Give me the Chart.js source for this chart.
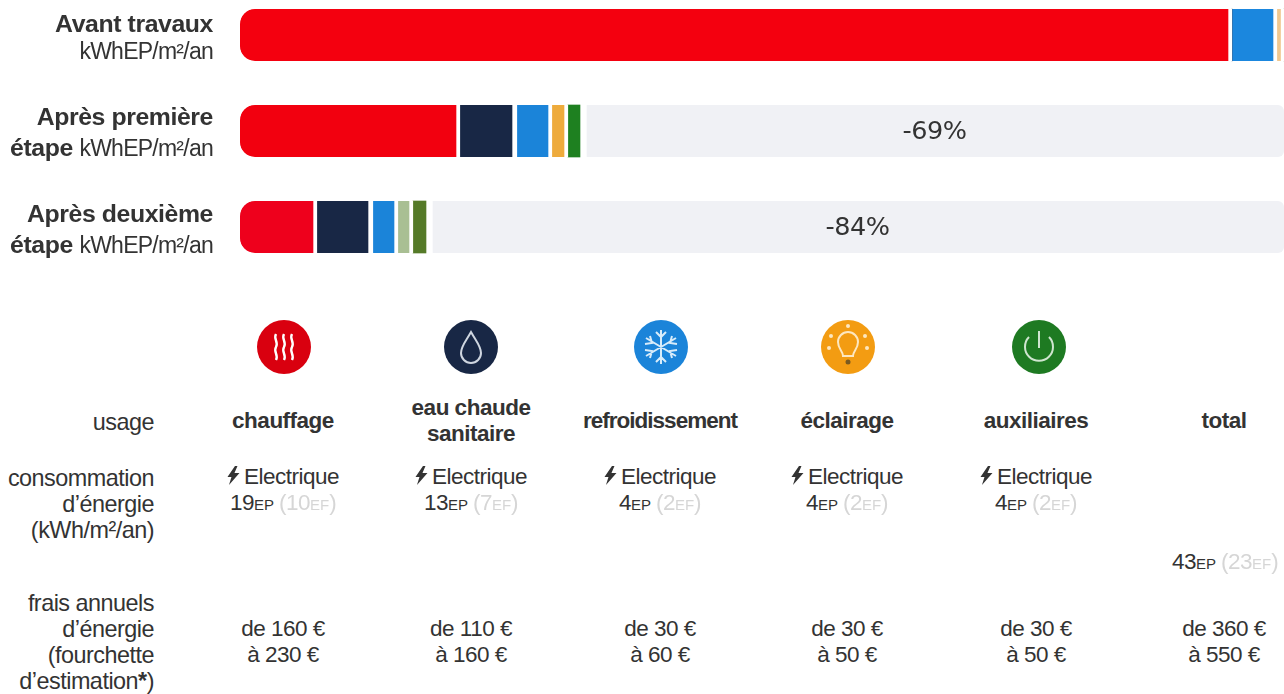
<!DOCTYPE html>
<html lang="fr">
<head>
<meta charset="utf-8">
<title>Consommation d'énergie par étape</title>
<script src="https://cdn.jsdelivr.net/npm/chart.js@4/dist/chart.umd.min.js"></script>
<style>
  html, body { margin: 0; width: 1284px; height: 694px; overflow: hidden; background: #fff; }
  body { position: relative; font-family: "Liberation Sans", Arial, sans-serif; color: #333; font-size: 22.5px; letter-spacing: -0.5px; }
  #energyChart { position: absolute; left: 0; top: -13px; }
  .t { position: absolute; line-height: 26px; white-space: nowrap; }
  .c { transform: translate(-50%, -50%); text-align: center; }
  .r { transform: translate(-100%, -50%); text-align: right; }
  .b { font-weight: bold; }
  .side { font-size: 23.4px; }
  .rowlabel { font-size: 24.8px; line-height: 31px; letter-spacing: -0.4px; }
  .rowlabel.first { line-height: 27px; }
  .rowlabel span { font-size: 23px; font-weight: normal; letter-spacing: -0.75px; }
  small { font-size: 15px; letter-spacing: 0; }
  .ef { color: #d6d6d6; filter: blur(0.7px); margin-left: 5px; }
  .icon { position: absolute; top: 320px; width: 54px; height: 54px; }
  .bolt { display: inline-block; width: 13px; height: 19px; margin-right: 4px; vertical-align: -1px; }
  .tight { letter-spacing: -1px; }
</style>
</head>
<body>
<canvas id="energyChart" width="1284" height="288"></canvas>
<script>
// bar values (kWhEP/m²/an, each one includes the white gap after it)
const steps = ['Avant travaux', 'Après première étape', 'Après deuxième étape'];
const chauffageBar = [248, 55, 19.25];
const ecsBar = [0, 14.25, 14];
const froidBar = [11.25, 8.75, 6.25];
const eclairageBar = [1.75, 4, 3.75];
const auxiliairesBar = [0, 3, 3.25];
const resteBar = [0, 176, 214.5];
const reductions = ['', '-69%', '-84%'];

// table under the chart
const usages = ['chauffage', 'eau chaude<br>sanitaire', '<span class="tight">refroidissement</span>', 'éclairage', 'auxiliaires', 'total'];
const energie = ['Electrique', 'Electrique', 'Electrique', 'Electrique', 'Electrique'];
const consoEP = [19, 13, 4, 4, 4];
const consoEF = [10, 7, 2, 2, 2];
const totalEP = 43;
const totalEF = 23;
const fraisMin = [160, 110, 30, 30, 30, 360];
const fraisMax = [230, 160, 60, 50, 50, 550];

const columns = [283, 471, 660, 847, 1036, 1224];

// prints the -69% / -84% in the middle of the grey part
const reductionLabels = {
  id: 'reductionLabels',
  afterDatasetsDraw(chart) {
    const ctx = chart.ctx;
    const bars = chart.getDatasetMeta(chart.data.datasets.length - 1).data;
    ctx.save();
    ctx.font = '25.5px "DejaVu Sans"';
    ctx.fillStyle = '#333';
    ctx.textAlign = 'center';
    ctx.textBaseline = 'middle';
    bars.forEach((bar, i) => {
      if (reductions[i]) ctx.fillText(reductions[i], (bar.base + bar.x) / 2 + 2.5, bar.y + 1);
    });
    ctx.restore();
  },
};

function dataset(label, data, colors, borderWidth, borderRadius) {
  return {
    label, data,
    backgroundColor: colors,
    borderColor: '#fff',
    borderWidth,
    borderRadius: borderRadius || 0,
    borderSkipped: false,
    barThickness: 52,
    stack: 'conso',
  };
}

const gap = { top: 0, bottom: 0, left: 0, right: 4 };

new Chart(document.getElementById('energyChart'), {
  type: 'bar',
  data: {
    labels: steps,
    datasets: [
      dataset('chauffage', chauffageBar, ['#f4000f', '#f2000f', '#ee001c'], gap, { topLeft: 15, bottomLeft: 15 }),
      dataset('eau chaude sanitaire', ecsBar, '#182745', { top: 0, bottom: 0, left: 0, right: 5 }),
      dataset('refroidissement', froidBar, ['#1b87de', '#1b84d9', '#1b84d9'], gap, 1),
      dataset('éclairage', eclairageBar, ['#f0c890', '#eeab3c', '#a9bf93'], gap),
      dataset('auxiliaires', auxiliairesBar, ['#1e8020', '#1e8020', '#557a28'], 0, 1),
      dataset('reste', resteBar, '#f0f1f5', { top: 0, bottom: 0, left: 7, right: 0 }, { topRight: 6, bottomRight: 6 }),
    ],
  },
  options: {
    indexAxis: 'y',
    responsive: false,
    animation: false,
    layout: { padding: { left: 240, right: 0, top: 0, bottom: 0 } },
    plugins: { legend: { display: false }, tooltip: { enabled: false } },
    scales: {
      x: { display: false, stacked: true, min: 0, max: 261 },
      y: { display: false, stacked: true },
    },
  },
  plugins: [reductionLabels],
});

function put(html, x, y, cls) {
  const el = document.createElement('div');
  el.className = 't ' + cls;
  el.style.left = x + 'px';
  el.style.top = y + 'px';
  el.innerHTML = html;
  document.body.appendChild(el);
}

const unit = 'kWhEP/m²/an';
put('Avant travaux<br><span>' + unit + '</span>', 213, 37, 'r b rowlabel first');
put('Après première<br>étape <span>' + unit + '</span>', 213, 132, 'r b rowlabel');
put('Après deuxième<br>étape <span>' + unit + '</span>', 213, 229, 'r b rowlabel');

put('usage', 154, 422, 'r side');
put('consommation<br>d’énergie<br>(kWh/m²/an)', 154, 504, 'r side');
put('frais annuels<br>d’énergie<br>(fourchette<br>d’estimation<b>*</b>)', 154, 642, 'r side');

const boltSvg = '<svg class="bolt" viewBox="0 0 12 19"><path d="M7.5 0 0 11h4l-2.5 8L12 7H7l3-7z" fill="#333"/></svg>';
const conso = (ep, ef) => ep + '<small>EP</small><span class="ef">(' + ef + '<small>EF</small>)</span>';

usages.forEach((u, i) => put(u, columns[i], 421, 'c b'));
energie.forEach((e, i) => {
  put(boltSvg + e, columns[i], 477, 'c');
  put(conso(consoEP[i], consoEF[i]), columns[i], 504, 'c');
});
put(conso(totalEP, totalEF), 1225, 563, 'c');
fraisMin.forEach((v, i) => put('de ' + v + ' €<br>à ' + fraisMax[i] + ' €', columns[i], 642, 'c'));

// usage icons
const icons = [
  [284, '#d9000f', '<path d="M19 14c-3 5 3 8 0 13s3 8 0 13M27 14c-3 5 3 8 0 13s3 8 0 13M35 14c-3 5 3 8 0 13s3 8 0 13" fill="none" stroke="#fff" stroke-width="2.4"/>'],
  [471, '#182745', '<path d="M27 12c-5 9-10 14-10 21a10 10 0 0 0 20 0c0-7-5-12-10-21z" fill="none" stroke="#cfd6e0" stroke-width="2"/>'],
  [661, '#1b84d9', '<path d="M27 10v34M12 18l30 18M42 18 12 36M22 12l5 5 5-5M22 42l5-5 5 5M11 24l7-1-2-7M43 30l-7 1 2 7M43 24l-7-1 2-7M11 30l7 1-2 7" fill="none" stroke="#d8ecfa" stroke-width="2"/>'],
  [848, '#f39c12', '<path d="M22 36c0-5-5-7-5-14a10 10 0 0 1 20 0c0 7-5 9-5 14z" fill="none" stroke="#fde7c0" stroke-width="2"/><circle cx="27" cy="42" r="2.5" fill="#7a5a20"/><circle cx="10" cy="16" r="2" fill="#fde7c0"/><circle cx="44" cy="16" r="2" fill="#fde7c0"/><circle cx="27" cy="6" r="2" fill="#fde7c0"/><circle cx="8" cy="28" r="2" fill="#fde7c0"/><circle cx="46" cy="28" r="2" fill="#fde7c0"/>'],
  [1039, '#1e7a22', '<path d="M27 11v17M17 17a14 14 0 1 0 20 0" fill="none" stroke="#cfe5cf" stroke-width="2"/>'],
];
icons.forEach(([x, color, glyph]) => {
  const wrap = document.createElement('div');
  wrap.innerHTML = '<svg class="icon" style="left:' + (x - 27) + 'px" viewBox="0 0 54 54"><circle cx="27" cy="27" r="27" fill="' + color + '"/>' + glyph + '</svg>';
  document.body.appendChild(wrap.firstChild);
});
</script>
</body>
</html>
